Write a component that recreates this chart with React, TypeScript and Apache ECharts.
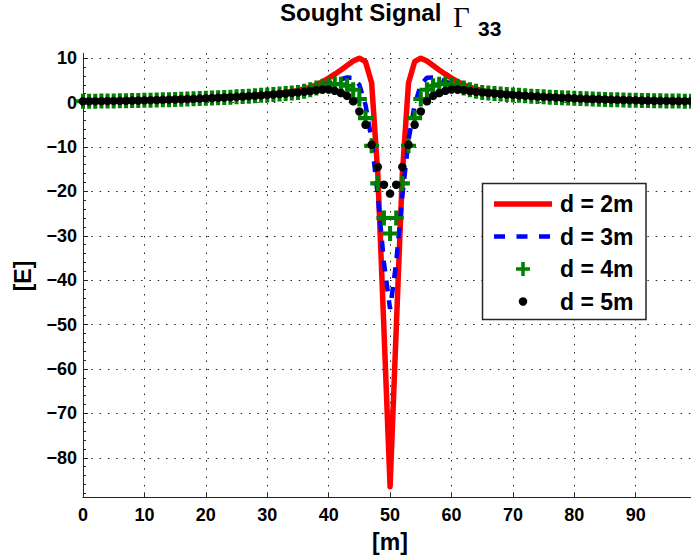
import { useEffect, useRef } from 'react';
import * as echarts from 'echarts';

// x positions [m]
const xValues: number[] = Array.from({ length: 100 }, (_, i) => i);

const xTicks = [0, 10, 20, 30, 40, 50, 60, 70, 80, 90];
const yTicks = [-80, -70, -60, -50, -40, -30, -20, -10, 0, 10];
const yMinorTicks = [-88, -86, -84, -82, -78, -76, -74, -72, -68, -66, -64, -62, -58, -56, -54, -52, -48, -46, -44, -42, -38, -36, -34, -32, -28, -26, -24, -22, -18, -16, -14, -12, -8, -6, -4, -2, 2, 4, 6, 8];

const seriesNames = ['d = 2m', 'd = 3m', 'd = 4m', 'd = 5m'];

// d = 2m
const red = [
  0.30, 0.31, 0.32, 0.34, 0.36, 0.38, 0.40, 0.42, 0.45, 0.48,
  0.51, 0.54, 0.58, 0.62, 0.66, 0.70, 0.75, 0.80, 0.85, 0.90,
  0.96, 1.02, 1.08, 1.15, 1.22, 1.29, 1.37, 1.45, 1.54, 1.63,
  1.80, 1.95, 2.10, 2.30, 2.50, 2.75, 3.05, 3.45, 4.00, 4.70,
  5.50, 6.40, 7.35, 8.35, 9.35, 10.0, 9.20, 4.40, -16.0, -51.0,
  -86.5, -51.0, -16.0, 4.40, 9.20, 10.0, 9.35, 8.35, 7.35, 6.40,
  5.50, 4.70, 4.00, 3.45, 3.05, 2.75, 2.50, 2.30, 2.10, 1.95,
  1.80, 1.63, 1.54, 1.45, 1.37, 1.29, 1.22, 1.15, 1.08, 1.02,
  0.96, 0.90, 0.85, 0.80, 0.75, 0.70, 0.66, 0.62, 0.58, 0.54,
  0.51, 0.48, 0.45, 0.42, 0.40, 0.38, 0.36, 0.34, 0.32, 0.31,
];

// d = 3m
const blue = [
  0.30, 0.31, 0.32, 0.34, 0.36, 0.38, 0.40, 0.42, 0.45, 0.48,
  0.51, 0.54, 0.58, 0.62, 0.66, 0.70, 0.75, 0.80, 0.85, 0.90,
  0.96, 1.02, 1.08, 1.15, 1.22, 1.29, 1.37, 1.45, 1.54, 1.63,
  1.73, 1.83, 1.94, 2.05, 2.17, 2.29, 2.60, 2.95, 3.35, 3.80,
  4.25, 4.75, 5.25, 5.65, 5.60, 4.00, -0.5, -8.5, -21.0, -36.0,
  -46.5, -36.0, -21.0, -8.5, -0.5, 4.00, 5.60, 5.65, 5.25, 4.75,
  4.25, 3.80, 3.35, 2.95, 2.60, 2.29, 2.17, 2.05, 1.94, 1.83,
  1.73, 1.63, 1.54, 1.45, 1.37, 1.29, 1.22, 1.15, 1.08, 1.02,
  0.96, 0.90, 0.85, 0.80, 0.75, 0.70, 0.66, 0.62, 0.58, 0.54,
  0.51, 0.48, 0.45, 0.42, 0.40, 0.38, 0.36, 0.34, 0.32, 0.31,
];

// d = 4m
const green = [
  0.30, 0.31, 0.32, 0.34, 0.36, 0.38, 0.40, 0.42, 0.45, 0.48,
  0.51, 0.54, 0.58, 0.62, 0.66, 0.70, 0.75, 0.80, 0.85, 0.90,
  0.96, 1.02, 1.08, 1.15, 1.22, 1.29, 1.37, 1.45, 1.54, 1.63,
  1.73, 1.83, 1.94, 2.05, 2.17, 2.29, 2.55, 2.90, 3.30, 3.70,
  4.00, 4.20, 4.15, 3.80, 2.90, 0.80, -3.5, -9.7, -18.2, -26.0,
  -29.5, -26.0, -18.2, -9.7, -3.5, 0.80, 2.90, 3.80, 4.15, 4.20,
  4.00, 3.70, 3.30, 2.90, 2.55, 2.29, 2.17, 2.05, 1.94, 1.83,
  1.73, 1.63, 1.54, 1.45, 1.37, 1.29, 1.22, 1.15, 1.08, 1.02,
  0.96, 0.90, 0.85, 0.80, 0.75, 0.70, 0.66, 0.62, 0.58, 0.54,
  0.51, 0.48, 0.45, 0.42, 0.40, 0.38, 0.36, 0.34, 0.32, 0.31,
];

// d = 5m
const black = [
  0.30, 0.31, 0.32, 0.34, 0.36, 0.38, 0.40, 0.42, 0.45, 0.48,
  0.51, 0.54, 0.58, 0.62, 0.66, 0.70, 0.75, 0.80, 0.85, 0.90,
  0.96, 1.02, 1.08, 1.15, 1.22, 1.29, 1.37, 1.45, 1.54, 1.63,
  1.73, 1.83, 1.94, 2.05, 2.17, 2.29, 2.42, 2.60, 2.80, 2.95,
  2.95, 2.65, 2.15, 1.50, 0.30, -2.0, -5.0, -9.5, -14.5, -18.5,
  -20.5, -18.5, -14.5, -9.5, -5.0, -2.0, 0.30, 1.50, 2.15, 2.65,
  2.95, 2.95, 2.80, 2.60, 2.42, 2.29, 2.17, 2.05, 1.94, 1.83,
  1.73, 1.63, 1.54, 1.45, 1.37, 1.29, 1.22, 1.15, 1.08, 1.02,
  0.96, 0.90, 0.85, 0.80, 0.75, 0.70, 0.66, 0.62, 0.58, 0.54,
  0.51, 0.48, 0.45, 0.42, 0.40, 0.38, 0.36, 0.34, 0.32, 0.31,
];

const FONT = '"Liberation Sans", Arial, Helvetica, sans-serif';
const AXIS_COLOR = '#262626';
const plusPath = 'path://M4.75,0H8.25V4.75H13V8.25H8.25V13H4.75V8.25H0V4.75H4.75Z';

const pairs = (ys: number[]) => xValues.map((x, i) => [x, ys[i]]);
const fmt = (v: number) => (v < 0 ? '\u2212' + Math.abs(v) : String(v));

export default function App() {
  const ref = useRef<HTMLDivElement>(null);
  useEffect(() => {
    if (!ref.current) return;
    const chart = echarts.init(ref.current, undefined, { renderer: 'svg' });
    const gridLine = { show: true, lineStyle: { type: [1.5, 6.8], color: '#222', width: 1 } };
    const rows = [204, 236.5, 269, 301.5];
    const option: any = {
      animation: false,
      backgroundColor: '#fff',
      grid: { left: 83, top: 53.3, width: 610.4, height: 444, containLabel: false },
      xAxis: {
        type: 'value',
        min: 0,
        max: 99,
        axisLine: { show: true, onZero: false, lineStyle: { color: AXIS_COLOR, width: 1 } },
        axisTick: { show: true, inside: true, length: 5, customValues: xTicks, lineStyle: { color: AXIS_COLOR } },
        axisLabel: {
          customValues: xTicks, margin: 9, fontSize: 18, fontWeight: 'bold', color: '#000', fontFamily: FONT,
          formatter: (v: number) => fmt(v),
        },
        splitLine: gridLine,
      },
      yAxis: [
        {
          type: 'value',
          min: -88.9,
          max: 11.1,
          position: 'left',
          axisLine: { show: true, onZero: false, lineStyle: { color: AXIS_COLOR, width: 1 } },
          axisTick: { show: true, inside: true, length: 5, customValues: yTicks, lineStyle: { color: AXIS_COLOR } },
          axisLabel: {
            customValues: yTicks, margin: 6, fontSize: 18, fontWeight: 'bold', color: '#000', fontFamily: FONT,
            formatter: (v: number) => fmt(v),
          },
          splitLine: gridLine,
        },
        {
          type: 'value',
          min: -88.9,
          max: 11.1,
          position: 'left',
          offset: 0,
          axisLine: { show: false },
          axisTick: { show: true, inside: true, length: 3, customValues: yMinorTicks, lineStyle: { color: AXIS_COLOR } },
          axisLabel: { show: false },
          splitLine: { show: false },
        },
      ],
      series: [
        {
          name: seriesNames[0], type: 'line', data: pairs(red), symbol: 'none', silent: true, z: 1,
          lineStyle: { color: '#ff0000', width: 5.5, cap: 'round', join: 'round' },
        },
        {
          name: seriesNames[1], type: 'line', data: pairs(blue), symbol: 'none', silent: true, z: 2,
          lineStyle: { color: '#0000ff', width: 4.5, type: [11, 9] },
        },
        {
          name: seriesNames[2], type: 'scatter', data: pairs(green), symbol: plusPath, symbolSize: 15, silent: true, z: 3,
          itemStyle: { color: '#008000', opacity: 1 },
        },
        {
          name: seriesNames[3], type: 'scatter', data: pairs(black), symbol: 'circle', symbolSize: 8.5, silent: true, z: 4,
          itemStyle: { color: '#000', opacity: 1 },
        },
      ],
      graphic: [
        // title
        { type: 'text', z: 100, x: 280, y: 12.5, style: { text: 'Sought Signal', font: `bold 24px ${FONT}`, fill: '#000', verticalAlign: 'middle', align: 'left' } },
        { type: 'text', z: 100, x: 453, y: 16.5, style: { text: '\u0393', font: `29px "Liberation Serif", "Times New Roman", serif`, fill: '#000', verticalAlign: 'middle', align: 'left' } },
        { type: 'text', z: 100, x: 478, y: 28.5, style: { text: '33', font: `bold 21px ${FONT}`, fill: '#000', verticalAlign: 'middle', align: 'left' } },
        // axis names
        { type: 'text', z: 100, x: 390, y: 542, style: { text: '[m]', font: `bold 23px ${FONT}`, fill: '#000', verticalAlign: 'middle', align: 'center' } },
        { type: 'text', z: 100, x: 23, y: 276, rotation: Math.PI / 2, style: { text: '[E]', font: `bold 23px ${FONT}`, fill: '#000', verticalAlign: 'middle', align: 'center' } },
        // legend
        { type: 'rect', z: 100, shape: { x: 482.5, y: 183.5, width: 163.5, height: 136 }, style: { fill: '#fff', stroke: AXIS_COLOR, lineWidth: 1.5 } },
        { type: 'line', z: 101, shape: { x1: 494, y1: rows[0], x2: 552, y2: rows[0] }, style: { stroke: '#ff0000', lineWidth: 5.5 } },
        { type: 'line', z: 101, shape: { x1: 494, y1: rows[1], x2: 551, y2: rows[1] }, style: { stroke: '#0000ff', lineWidth: 4.5, lineDash: [11, 11.5] } },
        { type: 'rect', z: 101, shape: { x: 516, y: rows[2] - 1.75, width: 14, height: 3.5 }, style: { fill: '#008000' } },
        { type: 'rect', z: 101, shape: { x: 521.25, y: rows[2] - 7, width: 3.5, height: 14 }, style: { fill: '#008000' } },
        { type: 'circle', z: 101, shape: { cx: 523, cy: rows[3], r: 4.25 }, style: { fill: '#000' } },
        ...seriesNames.map((n, i) => ({
          type: 'text', z: 101, x: 560, y: rows[i],
          style: { text: n, font: `bold 23px ${FONT}`, fill: '#000', verticalAlign: 'middle', align: 'left' },
        })),
      ],
    };
    chart.setOption(option);
    return () => chart.dispose();
  }, []);
  return (
    <div
      ref={ref}
      style={{ position: 'absolute', left: 0, top: 0, width: 691, height: 557, overflow: 'hidden' }}
    />
  );
}
